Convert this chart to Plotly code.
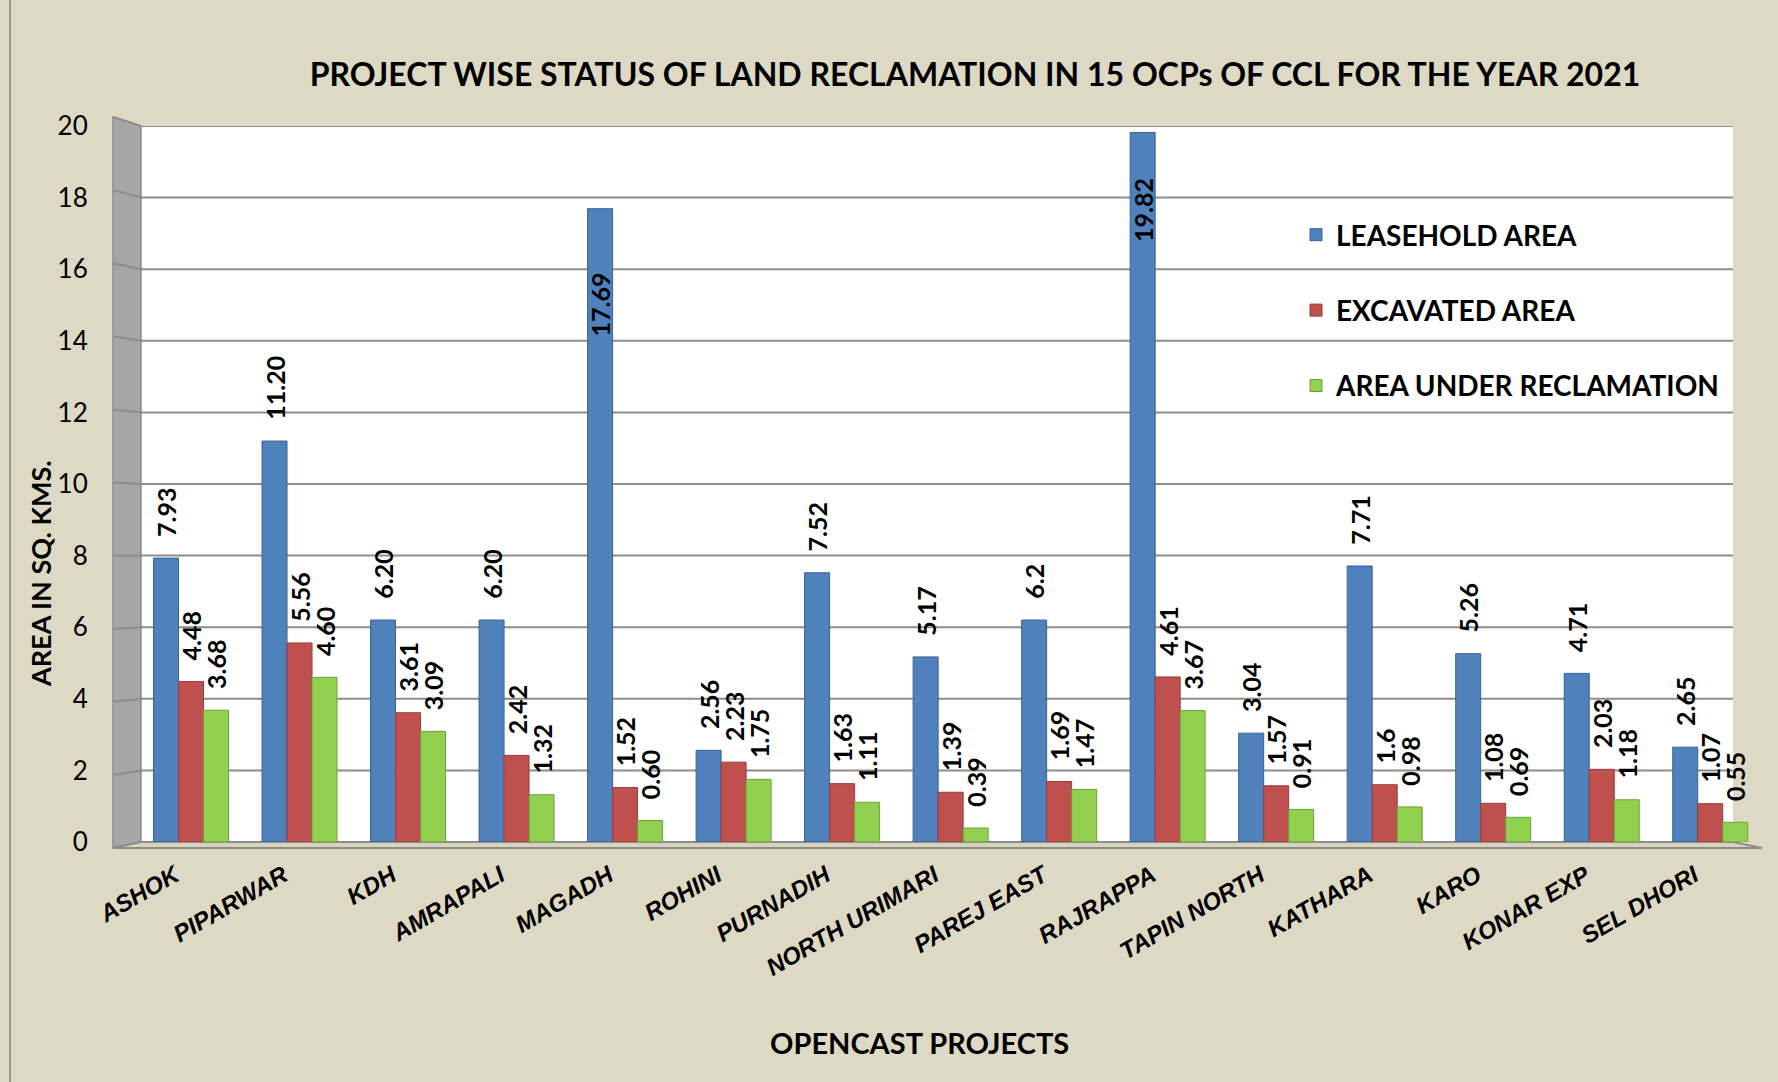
import plotly.graph_objects as go

# ---------------- data ----------------
projects = ["ASHOK", "PIPARWAR", "KDH", "AMRAPALI", "MAGADH", "ROHINI", "PURNADIH",
            "NORTH URIMARI", "PAREJ EAST", "RAJRAPPA", "TAPIN NORTH", "KATHARA",
            "KARO", "KONAR EXP", "SEL DHORI"]
leasehold_area = [7.93, 11.20, 6.20, 6.20, 17.69, 2.56, 7.52, 5.17, 6.2, 19.82, 3.04, 7.71, 5.26, 4.71, 2.65]
excavated_area = [4.48, 5.56, 3.61, 2.42, 1.52, 2.23, 1.63, 1.39, 1.69, 4.61, 1.57, 1.6, 1.08, 2.03, 1.07]
reclamation_area = [3.68, 4.60, 3.09, 1.32, 0.60, 1.75, 1.11, 0.39, 1.47, 3.67, 0.91, 0.98, 0.69, 1.18, 0.55]
leasehold_labels = ["7.93", "11.20", "6.20", "6.20", "17.69", "2.56", "7.52", "5.17", "6.2", "19.82", "3.04", "7.71", "5.26", "4.71", "2.65"]
excavated_labels = ["4.48", "5.56", "3.61", "2.42", "1.52", "2.23", "1.63", "1.39", "1.69", "4.61", "1.57", "1.6", "1.08", "2.03", "1.07"]
reclamation_labels = ["3.68", "4.60", "3.09", "1.32", "0.60", "1.75", "1.11", "0.39", "1.47", "3.67", "0.91", "0.98", "0.69", "1.18", "0.55"]
series_names = ["LEASEHOLD AREA", "EXCAVATED AREA", "AREA UNDER RECLAMATION"]
y_ticks = [0, 2, 4, 6, 8, 10, 12, 14, 16, 18, 20]

# ---------------- styling ----------------
W, H = 1778, 1082
BG = "#DDD9C4"
COLORS = ["#4F81BD", "#C0504D", "#92D050"]
LINE_COLORS = ["#3A6291", "#943C3A", "#6E9E3C"]
FONT = "Lato, Open Sans, sans-serif"
NARROW = "Liberation Sans Narrow, Arial Narrow, Liberation Sans, sans-serif"
NB = "\u00a0"


def px(x):
    return x / W


def py(y):
    return 1 - y / H


# plot area (pixels)
X_LEFT, X_RIGHT = 136.75, 1764.5
Y_ZERO, Y_TOP = 842, 126

fig = go.Figure()
for name, vals, labels, col, lcol in zip(
        series_names,
        [leasehold_area, excavated_area, reclamation_area],
        [leasehold_labels, excavated_labels, reclamation_labels],
        COLORS, LINE_COLORS):
    positions = ["inside" if v > 16 else "outside" for v in vals]
    texts = []
    for lab, p, v in zip(labels, positions, vals):
        if p == "inside":
            texts.append(lab + NB * (10 if v < 19 else 7))
        else:
            texts.append(NB * 3 + lab)
    fig.add_trace(go.Bar(
        name=name, x=projects, y=vals, text=texts, textposition=positions,
        insidetextanchor="end", textangle=-90, constraintext="none",
        textfont=dict(family=FONT, size=25, color="black", weight="bold"),
        insidetextfont=dict(family=FONT, size=25, color="black", weight="bold"),
        outsidetextfont=dict(family=FONT, size=25, color="black", weight="bold"),
        marker=dict(color=col, line=dict(color=lcol, width=1)),
        cliponaxis=False, legendgroup=name,
    ))

shapes = []
# back wall (white)
shapes.append(dict(type="rect", xref="paper", yref="paper", layer="below",
                   x0=px(141), x1=px(1733), y0=py(Y_ZERO), y1=py(Y_TOP),
                   fillcolor="white", line=dict(width=0)))
# gridlines on back wall
for t in y_ticks:
    shapes.append(dict(type="line", xref="paper", yref="y", layer="below",
                       x0=px(141), x1=px(1733), y0=t, y1=t,
                       line=dict(color="#8C8C8C", width=2)))
# left side wall
wall_path = "M {} {} L {} {} L {} {} L {} {} Z".format(
    px(113), py(117), px(141), py(Y_TOP), px(141), py(Y_ZERO), px(113), py(848))
shapes.append(dict(type="path", xref="paper", yref="paper", layer="below", path=wall_path,
                   fillcolor="#A6A6A6", line=dict(color="#8C8C8C", width=1.5)))
for t in y_ticks:
    yf = 848 - (848 - 117) * t / 20
    yb = Y_ZERO - (Y_ZERO - Y_TOP) * t / 20
    shapes.append(dict(type="line", xref="paper", yref="paper", layer="below",
                       x0=px(113), x1=px(141), y0=py(yf), y1=py(yb),
                       line=dict(color="#8C8C8C", width=2)))
# floor
floor_path = "M {} {} L {} {} L {} {} L {} {} Z".format(
    px(141), py(Y_ZERO), px(1733), py(Y_ZERO), px(1762), py(848), px(113), py(848))
shapes.append(dict(type="path", xref="paper", yref="paper", layer="below", path=floor_path,
                   fillcolor="#D8D3BB", line=dict(color="#8C8C8C", width=2)))
# outer chart border (left)
shapes.append(dict(type="line", xref="paper", yref="paper", layer="below",
                   x0=px(10), x1=px(10), y0=0, y1=1,
                   line=dict(color="#9A9A9A", width=2)))

fig.update_layout(
    width=W, height=H,
    margin=dict(l=0, r=0, t=0, b=0, autoexpand=False),
    paper_bgcolor=BG, plot_bgcolor="rgba(0,0,0,0)",
    barmode="group", bargap=0.309, bargroupgap=0,
    showlegend=True,
    legend=dict(x=px(1296), y=py(210), xanchor="left", yanchor="top",
                bgcolor="rgba(0,0,0,0)", font=dict(family=FONT, size=28, color="black", weight="bold"),
                tracegroupgap=36, itemwidth=30),
    title=dict(text="PROJECT WISE STATUS OF LAND RECLAMATION IN 15 OCPs OF CCL FOR THE YEAR 2021",
               x=px(975), xanchor="center", y=py(75), yanchor="middle", yref="container",
               font=dict(family=FONT, size=32, color="black", weight="bold")),
    xaxis=dict(domain=[px(X_LEFT), px(X_RIGHT)], type="category", range=[-0.5, 14.5],
               showgrid=False, zeroline=False, showline=False, ticks="", automargin=False,
               tickangle=-30, ticklabelstandoff=14, ticklabelshift=-16,
               tickfont=dict(family=NARROW, size=24, color="black", weight="bold", style="italic")),
    yaxis=dict(domain=[py(Y_ZERO), py(Y_TOP)], range=[0, 20], tickvals=y_ticks,
               showgrid=False, zeroline=False, showline=False, ticks="", automargin=False,
               ticklabelstandoff=48,
               tickfont=dict(family=FONT, size=26, color="black")),
    annotations=[
        dict(text="AREA IN SQ. KMS.", xref="paper", yref="paper", x=px(40), y=py(574),
             xanchor="center", yanchor="middle", textangle=-90, showarrow=False,
             font=dict(family=FONT, size=27, color="black", weight="bold")),
        dict(text="OPENCAST PROJECTS", xref="paper", yref="paper", x=px(919), y=py(1042),
             xanchor="center", yanchor="middle", showarrow=False,
             font=dict(family=FONT, size=29, color="black", weight="bold")),
    ],
    shapes=shapes,
)

fig.write_html("out.html", config={"displayModeBar": False},
               post_script="document.body.style.margin='0';document.body.style.background='" + BG + "';")
